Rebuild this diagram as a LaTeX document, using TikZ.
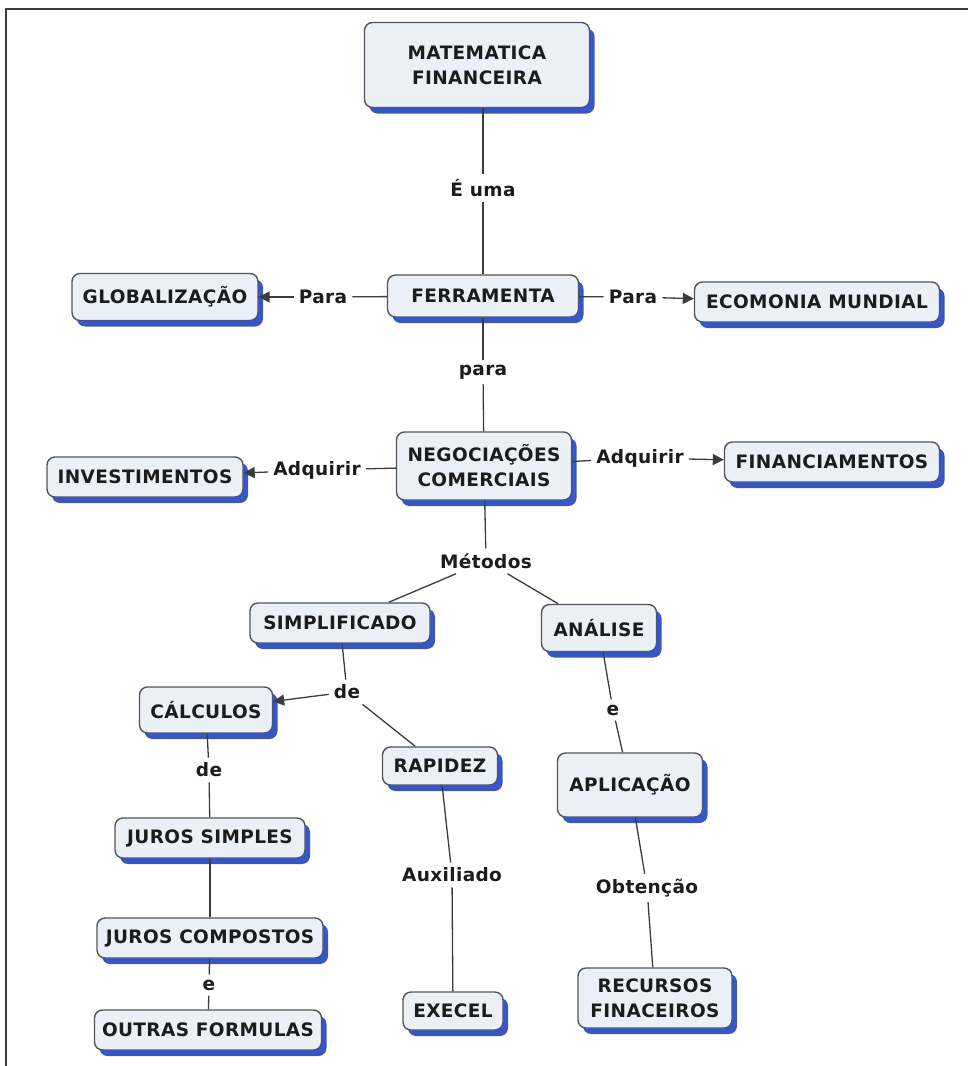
\documentclass[tikz,border=0pt]{standalone}
\usepackage{fontspec}
\setmainfont{DejaVu Sans}[LetterSpace=2]
\usetikzlibrary{arrows.meta,shadows}
\definecolor{boxfill}{RGB}{234,240,246}
\definecolor{boxdraw}{RGB}{85,85,85}
\definecolor{shadowblue}{RGB}{52,88,204}
\definecolor{linec}{RGB}{60,60,60}
\definecolor{txt}{RGB}{28,28,28}
\definecolor{framec}{RGB}{60,60,60}
\begin{document}
\begin{tikzpicture}[x=1pt,y=-1pt,
  concept/.style={draw=boxdraw, line width=1.4pt, fill=boxfill, rounded corners=8pt,
    text=txt, font=\bfseries\fontsize{18.5}{25}\selectfont, align=center, inner sep=0pt,
    drop shadow={shadow xshift=5pt, shadow yshift=-6pt, fill=shadowblue, opacity=1}},
  lbl/.style={text=txt, font=\bfseries\fontsize{18.5}{25}\selectfont, inner sep=5pt},
  link/.style={draw=linec, line width=1.3pt},
  arr/.style={link, -{Triangle[length=11pt,width=11pt]}}
]
\fill[white] (0,0) rectangle (968,1066);
\useasboundingbox (0,0) rectangle (968,1066);
\draw[framec, line width=2pt] (6,1066) -- (6,9) -- (968,9);

% concepts
\node[concept, minimum width=225pt, minimum height=85pt] (mat) at (477,65) {MATEMATICA\\FINANCEIRA};
\node[concept, minimum width=191pt, minimum height=42pt] (fer) at (483,296) {FERRAMENTA};
\node[concept, minimum width=186pt, minimum height=47pt] (glo) at (165,297) {GLOBALIZAÇÃO};
\node[concept, minimum width=245pt, minimum height=40pt] (eco) at (817,302) {ECOMONIA MUNDIAL};
\node[concept, minimum width=175pt, minimum height=68pt] (neg) at (484,466) {NEGOCIAÇÕES\\COMERCIAIS};
\node[concept, minimum width=196pt, minimum height=40pt] (inv) at (145,477) {INVESTIMENTOS};
\node[concept, minimum width=215pt, minimum height=40pt] (fin) at (832,462) {FINANCIAMENTOS};
\node[concept, minimum width=180pt, minimum height=40pt] (simp) at (340,623) {SIMPLIFICADO};
\node[concept, minimum width=115pt, minimum height=47pt] (ana) at (599,628) {ANÁLISE};
\node[concept, minimum width=133pt, minimum height=46pt] (cal) at (206,710) {CÁLCULOS};
\node[concept, minimum width=115pt, minimum height=38pt] (rap) at (440,766) {RAPIDEZ};
\node[concept, minimum width=190pt, minimum height=40pt] (js) at (210,838) {JUROS SIMPLES};
\node[concept, minimum width=226pt, minimum height=40pt] (jc) at (210,938) {JUROS COMPOSTOS};
\node[concept, minimum width=227pt, minimum height=40pt] (of) at (208,1030) {OUTRAS FORMULAS};
\node[concept, minimum width=145pt, minimum height=64pt] (apl) at (630,785) {APLICAÇÃO};
\node[concept, minimum width=100pt, minimum height=38pt] (exe) at (453,1011) {EXECEL};
\node[concept, minimum width=154pt, minimum height=60pt] (rec) at (655,998) {RECURSOS\\FINACEIROS};

% link labels
\node[lbl] (euma) at (483,188) {É uma};
\node[lbl] (paraL) at (323,297) {Para};
\node[lbl] (paraR) at (633,297) {Para};
\node[lbl] (para) at (483,372) {para};
\node[lbl] (adqL) at (317,470) {Adquirir};
\node[lbl] (adqR) at (640,458) {Adquirir};
\node[lbl] (met) at (486,561) {Métodos};
\node[lbl] (de1) at (347,692) {de};
\node[lbl] (de2) at (209,770) {de};
\node[lbl] (e1) at (613,710) {e};
\node[lbl] (aux) at (452,875) {Auxiliado};
\node[lbl] (obt) at (647,888) {Obtenção};
\node[lbl] (e2) at (209,985) {e};

% connectors
\draw[link] (euma |- mat.south) -- (euma);
\draw[link] (euma) -- (fer);
\draw[link] (fer) -- (paraL);
\draw[arr] (paraL) -- (glo);
\draw[link] (fer) -- (paraR);
\draw[arr] (paraR) -- (eco);
\draw[link] (fer) -- (para);
\draw[link] (para) -- (neg);
\draw[link] (neg) -- (adqL);
\draw[arr] (adqL) -- (inv);
\draw[link] (neg) -- (adqR);
\draw[arr] (adqR) -- (fin);
\draw[link] (neg) -- (met);
\draw[link] (met) -- (simp);
\draw[link] (met) -- (ana);
\draw[link] (simp) -- (de1);
\draw[arr] (de1) -- (cal);
\draw[link] (de1) -- (rap);
\draw[link] (cal) -- (de2);
\draw[link] (de2) -- (js);
\draw[link] (js) -- (jc);
\draw[link] (jc) -- (e2);
\draw[link] (e2) -- (of);
\draw[link] (rap) -- (aux);
\draw[link] (aux) -- (exe);
\draw[link] (ana) -- (e1);
\draw[link] (e1) -- (apl);
\draw[link] (apl) -- (obt);
\draw[link] (obt) -- (rec);
\end{tikzpicture}
\end{document}
